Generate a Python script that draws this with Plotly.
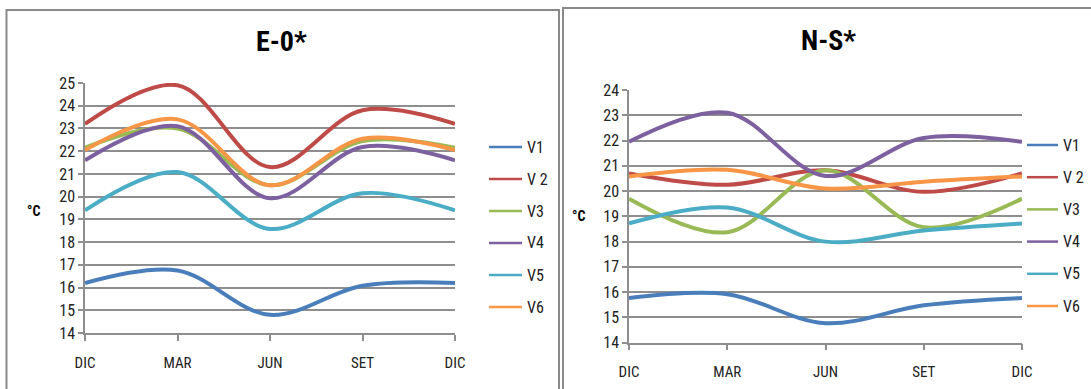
import plotly.graph_objects as go

# Category axis: seasonal sample points (Dec -> Dec)
months = ["DIC", "MAR", "JUN", "SET", "DIC"]
month_pos = [0, 1, 2, 3, 4]

series_names = ["V1", "V 2", "V3", "V4", "V5", "V6"]
colors = ["#4A7EBB", "#BE4B48", "#98B954", "#7D60A0", "#4BACC6", "#F79646"]

# East-West orientation (°C)
eo_v1 = [16.2, 16.75, 14.8, 16.08, 16.2]
eo_v2 = [23.2, 24.9, 21.3, 23.8, 23.2]
eo_v3 = [22.15, 23.0, 20.5, 22.45, 22.15]
eo_v4 = [21.6, 23.1, 19.93, 22.18, 21.6]
eo_v5 = [19.4, 21.08, 18.58, 20.15, 19.4]
eo_v6 = [22.05, 23.4, 20.5, 22.55, 22.05]

# North-South orientation (°C)
ns_v1 = [15.77, 15.92, 14.77, 15.48, 15.77]
ns_v2 = [20.7, 20.25, 20.82, 19.97, 20.7]
ns_v3 = [19.7, 18.37, 20.82, 18.57, 19.7]
ns_v4 = [21.95, 23.1, 20.6, 22.1, 21.95]
ns_v5 = [18.72, 19.35, 18.0, 18.44, 18.72]
ns_v6 = [20.58, 20.84, 20.1, 20.37, 20.58]

eo_series = [eo_v1, eo_v2, eo_v3, eo_v4, eo_v5, eo_v6]
ns_series = [ns_v1, ns_v2, ns_v3, ns_v4, ns_v5, ns_v6]

W, H = 1091, 389
FONT = "Roboto Condensed, DejaVu Sans Condensed, sans-serif"
TITLE_FONT = "Roboto Condensed, Open Sans Condensed, sans-serif"
GRID = "#8e8e8e"


def px(x):
    return x / W


def py(y):
    return 1 - y / H


fig = go.Figure()

for data, xa, ya in [(eo_series, "x", "y"), (ns_series, "x2", "y2")]:
    for name, vals, col in zip(series_names, data, colors):
        fig.add_trace(go.Scatter(
            x=month_pos, y=vals, mode="lines", xaxis=xa, yaxis=ya, name=name,
            line=dict(color=col, width=4, shape="spline", smoothing=1),
            showlegend=False, hoverinfo="skip",
        ))

xaxis_common = dict(
    range=[0, 4], tickvals=month_pos, ticktext=months, automargin=False,
    showgrid=False, zeroline=False, showline=True, linecolor=GRID, linewidth=1.5,
    ticks="outside", ticklen=6, tickcolor=GRID, tickwidth=1.5,
    tickfont=dict(family=FONT, size=15, color="#222"), ticklabelstandoff=9,
)
yaxis_common = dict(
    dtick=1, showgrid=True, gridcolor=GRID, gridwidth=1.5, zeroline=False,
    showline=True, linecolor=GRID, linewidth=1.5, automargin=False,
    ticks="outside", ticklen=5, tickcolor=GRID, tickwidth=1.5,
    tickfont=dict(family=FONT, size=16, color="#222"),
)

fig.update_layout(
    width=W, height=H, margin=dict(l=0, r=0, t=0, b=0, autoexpand=False),
    paper_bgcolor="white", plot_bgcolor="white", showlegend=False,
    xaxis=dict(domain=[px(85), px(455)], anchor="y", **xaxis_common),
    yaxis=dict(domain=[py(333), py(83)], range=[14, 25], anchor="x", **yaxis_common),
    xaxis2=dict(domain=[px(629), px(1022)], anchor="y2", **xaxis_common),
    yaxis2=dict(domain=[py(342.7), py(90)], range=[14, 24], anchor="x2", **yaxis_common),
)

# Series keys beside each chart: (line start, line end, first row, row step)
for x0, x1, y0, step in [(489, 522, 147, 32), (1027, 1058, 145, 32.2)]:
    for i, (name, col) in enumerate(zip(series_names, colors)):
        yy = py(y0 + i * step)
        fig.add_shape(type="line", xref="paper", yref="paper",
                      x0=px(x0), x1=px(x1), y0=yy, y1=yy,
                      line=dict(color=col, width=2.5))
        fig.add_annotation(text=name, x=px(x1 + 3), y=yy, xref="paper", yref="paper",
                           xanchor="left", yanchor="middle", showarrow=False,
                           font=dict(family=FONT, size=16, color="#222"))

# Chart frames
fig.add_shape(type="rect", xref="paper", yref="paper",
              x0=px(6.5), x1=px(559), y0=py(10), y1=-0.2,
              line=dict(color="#8a8a8a", width=2), layer="below")
fig.add_shape(type="rect", xref="paper", yref="paper",
              x0=px(563), x1=1.2, y0=py(8), y1=-0.2,
              line=dict(color="#8a8a8a", width=2), layer="below")

# Titles and unit labels
for text, x, y, size, fam in [("<b>E-0*</b>", 281, 42, 28, TITLE_FONT),
                              ("<b>N-S*</b>", 828, 40, 28, TITLE_FONT),
                              ("<b>°C</b>", 33, 211, 14, FONT),
                              ("<b>°C</b>", 578, 216, 14, FONT)]:
    fig.add_annotation(text=text, x=px(x), y=py(y), xref="paper", yref="paper",
                       xanchor="center", yanchor="middle", showarrow=False,
                       font=dict(family=fam, size=size, color="#000"))

fig.write_html("out.html")
